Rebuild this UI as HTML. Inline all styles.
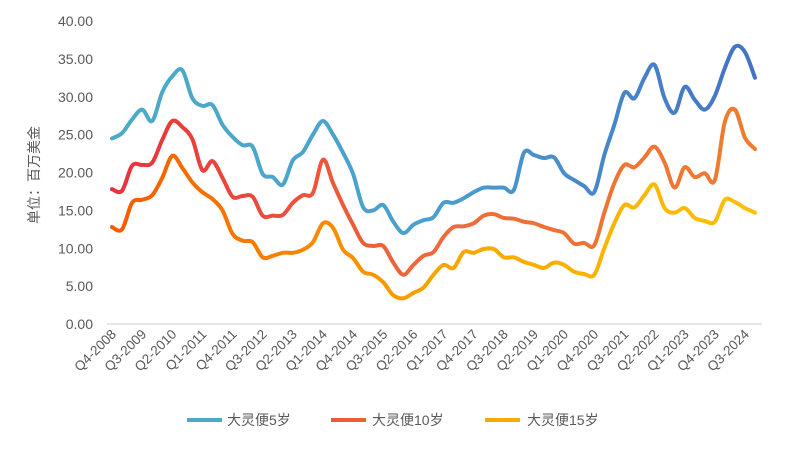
<!DOCTYPE html>
<html><head><meta charset="utf-8">
<style>
html,body{margin:0;padding:0;background:#fff;}
svg{display:block;font-family:"Liberation Sans","Noto Sans CJK SC",sans-serif;}
</style></head>
<body>
<svg id="chart" width="793" height="450" viewBox="0 0 793 450" xmlns="http://www.w3.org/2000/svg">
<defs>
<linearGradient id="gBlue" gradientUnits="userSpaceOnUse" x1="112" y1="0" x2="755" y2="0">
<stop offset="0" stop-color="#4bacc6"/><stop offset="0.5" stop-color="#4a9fcf"/><stop offset="1" stop-color="#4472c4"/></linearGradient>
<linearGradient id="gRed" gradientUnits="userSpaceOnUse" x1="112" y1="0" x2="755" y2="0">
<stop offset="0" stop-color="#e8313c"/><stop offset="0.5" stop-color="#ee6a3a"/><stop offset="1" stop-color="#ed7d31"/></linearGradient>
<linearGradient id="gOrange" gradientUnits="userSpaceOnUse" x1="112" y1="0" x2="755" y2="0">
<stop offset="0" stop-color="#f55a00"/><stop offset="0.5" stop-color="#f7a500"/><stop offset="1" stop-color="#ffc000"/></linearGradient>
</defs>
<g id="yaxis"></g>
<g id="xaxis"></g>
<g id="series"></g>
<text transform="translate(39,175) rotate(-90)" text-anchor="middle" font-size="14" fill="#595959">单位：百万美金</text>
<g>
<g><line x1="187" y1="420" x2="222" y2="420" stroke="url(#gBlue)" stroke-width="4"/><text x="227" y="425" font-size="14" fill="#595959">大灵便5岁</text></g>
<g><line x1="331" y1="420" x2="366" y2="420" stroke="url(#gRed)" stroke-width="4"/><text x="372" y="425" font-size="14" fill="#595959">大灵便10岁</text></g>
<g><line x1="485" y1="420" x2="520" y2="420" stroke="url(#gOrange)" stroke-width="4"/><text x="527" y="425" font-size="14" fill="#595959">大灵便15岁</text></g>
</g>
</svg>
<script>
const yTicks = [0,5,10,15,20,25,30,35,40];
const yTickLabels = ["0.00","5.00","10.00","15.00","20.00","25.00","30.00","35.00","40.00"];
const startYear = 2008, startQ = 4, nQuarters = 65;
const age5 = [24.5,25.2,27,28.3,26.8,30.6,32.7,33.5,29.8,28.8,28.9,26.3,24.7,23.6,23.4,19.8,19.4,18.4,21.6,22.7,25,26.8,25,22.6,19.8,15.4,15,15.7,13.5,12,13.1,13.7,14.1,16,16,16.6,17.4,18,18,18,17.7,22.6,22.3,21.9,22,19.9,19,18.2,17.4,22.3,26.3,30.5,29.8,32.5,34.2,29.8,27.9,31.3,29.6,28.3,30.1,33.8,36.6,35.9,32.5];
const age10 = [17.8,17.6,20.9,21,21.3,24.3,26.8,26,24.4,20.3,21.5,19.3,16.8,16.9,16.8,14.3,14.3,14.4,16,17,17.3,21.7,18.6,15.7,13.1,10.7,10.3,10.3,8.1,6.5,7.8,9,9.5,11.5,12.8,12.9,13.3,14.3,14.5,14,13.9,13.5,13.3,12.8,12.4,12,10.6,10.7,10.4,14.7,18.6,21,20.7,22,23.4,21.3,18,20.7,19.4,19.9,19,26.7,28.3,24.6,23.1];
const age15 = [12.8,12.5,16,16.4,17,19.3,22.2,20.6,18.7,17.4,16.5,15,11.9,11,10.8,8.8,9,9.4,9.4,9.8,10.8,13.3,12.7,9.8,8.7,6.9,6.5,5.5,3.8,3.4,4.1,4.8,6.5,7.8,7.4,9.5,9.4,9.9,9.9,8.8,8.8,8.2,7.8,7.4,8.1,7.8,6.9,6.6,6.5,10,13.3,15.7,15.4,17,18.4,15.3,14.7,15.3,14,13.6,13.5,16.4,16.1,15.3,14.7];

const NS="http://www.w3.org/2000/svg";
const X0=112, X1=755, Y0=324, YTOP=21, YMAX=40;
function xScale(i){return X0+(X1-X0)*i/(nQuarters-1);}
function yScale(v){return Y0-(Y0-YTOP)*v/YMAX;}
function qLabel(i){const t=startQ-1+i;return "Q"+(t%4+1)+"-"+(startYear+Math.floor(t/4));}

const yg=document.getElementById('yaxis');
yTicks.forEach((v,k)=>{
  const t=document.createElementNS(NS,'text');
  
  
  t.setAttribute('x',93);t.setAttribute('y',yScale(v)+5);
  t.setAttribute('text-anchor','end');t.setAttribute('font-size','14');t.setAttribute('fill','#595959');
  t.textContent=yTickLabels[k];yg.appendChild(t);
});
const xg=document.getElementById('xaxis');
const ax=document.createElementNS(NS,'line');


ax.setAttribute('x1',107);ax.setAttribute('x2',762);ax.setAttribute('y1',Y0);ax.setAttribute('y2',Y0);
ax.setAttribute('stroke','#d9d9d9');ax.setAttribute('stroke-width','1.2');xg.appendChild(ax);
for(let i=0;i<nQuarters;i+=3){
  const t=document.createElementNS(NS,'text');
  
  
  const x=xScale(i)+5,y=335;
  t.setAttribute('transform','translate('+x+','+y+') rotate(-45)');
  t.setAttribute('text-anchor','end');t.setAttribute('font-size','13.5');t.setAttribute('fill','#595959');
  t.textContent=qLabel(i);xg.appendChild(t);
}
function pathFor(vals){
  const p=vals.map((v,i)=>[xScale(i),yScale(v)]);
  let d='M'+p[0][0]+','+p[0][1];
  for(let i=0;i<p.length-1;i++){
    const a=p[i-1]||p[i],b=p[i],c=p[i+1],e=p[i+2]||c;
    const c1x=b[0]+(c[0]-a[0])/6,c1y=b[1]+(c[1]-a[1])/6;
    const c2x=c[0]-(e[0]-b[0])/6,c2y=c[1]-(e[1]-b[1])/6;
    d+=' C'+c1x+','+c1y+' '+c2x+','+c2y+' '+c[0]+','+c[1];
  }
  return d;
}
const sg=document.getElementById('series');
[[age15,'gOrange','series-15-year'],[age10,'gRed','series-10-year'],[age5,'gBlue','series-5-year']].forEach(s=>{
  const p=document.createElementNS(NS,'path');
  
  
  p.setAttribute('d',pathFor(s[0]));
  p.setAttribute('fill','none');p.setAttribute('stroke','url(#'+s[1]+')');
  p.setAttribute('stroke-width','4');p.setAttribute('stroke-linejoin','round');p.setAttribute('stroke-linecap','round');
  sg.appendChild(p);
});
</script>
</body></html>
